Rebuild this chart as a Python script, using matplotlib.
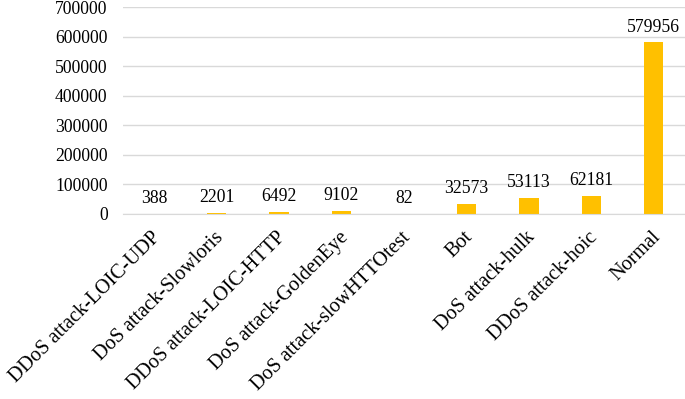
import matplotlib
matplotlib.use('Agg')
import matplotlib.pyplot as plt
import matplotlib.transforms as mtransforms

categories = ['DDoS attack-LOIC-UDP', 'DoS attack-Slowloris', 'DDoS attack-LOIC-HTTP',
              'DoS attack-GoldenEye', 'DoS attack-slowHTTOtest', 'Bot',
              'DoS attack-hulk', 'DDoS attack-hoic', 'Normal']
counts = [388, 2201, 6492, 9102, 82, 32573, 53113, 62181, 579956]
y_ticks = [0, 100000, 200000, 300000, 400000, 500000, 600000, 700000]

plt.rcParams['font.family'] = ['Liberation Serif', 'DejaVu Serif']

fig = plt.figure(figsize=(6.85, 3.99), dpi=100)
ax = fig.add_axes([123/685, 1 - 214/399, 562/685, 207/399])

x = range(len(categories))
ax.bar(x, counts, width=0.31, color='#FFC000', zorder=3)

for i, v in enumerate(counts):
    ax.annotate(str(v), (i, v), xytext=(0, 5), textcoords='offset points',
                ha='center', va='bottom', fontsize=12.7)

ax.set_xlim(-0.5, len(categories) - 0.5)
ax.set_ylim(0, 700000)
ax.set_yticks(y_ticks)
ax.set_yticklabels([str(t) for t in y_ticks], fontsize=12.7)
ax.set_xticks(list(x))
ax.set_xticklabels(categories, rotation=45, ha='right', rotation_mode='anchor', fontsize=14.6)
ax.tick_params(length=0)
ax.tick_params(axis='y', pad=11)
ax.tick_params(axis='x', pad=10)
# nudge rotated labels slightly left
shift = mtransforms.ScaledTranslation(-3/100, 0, fig.dpi_scale_trans)
for lab in ax.get_xticklabels():
    lab.set_transform(lab.get_transform() + shift)
ax.grid(axis='y', color='#D9D9D9', linewidth=1, zorder=0)
for s in ['top', 'right', 'left']:
    ax.spines[s].set_visible(False)
ax.spines['bottom'].set_color('#D9D9D9')
ax.spines['bottom'].set_zorder(4)

plt.savefig('out.png', dpi=100)
